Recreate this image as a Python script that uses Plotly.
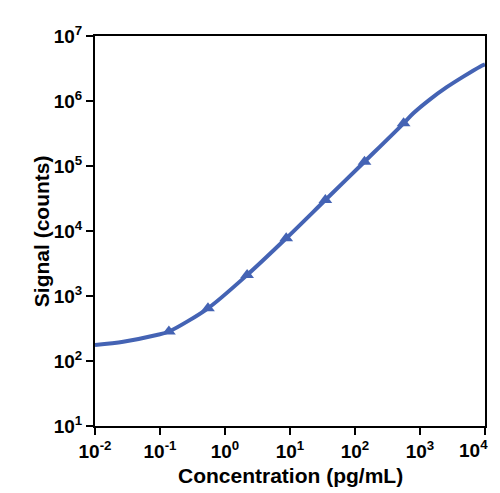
import plotly.graph_objects as go

# standards (4-fold dilution series) and their measured signal
conc = [0.137, 0.547, 2.19, 8.75, 35, 140, 560]
signal = [284, 647, 2104, 7720, 30000, 116400, 454000]

# fitted curve
fit_x = [0.01, 0.0272, 0.0889, 0.137, 0.547, 2.19, 8.75, 35, 140, 560,
         789, 1426, 2576, 4634, 8375, 10000]
fit_y = [176, 198, 251, 284, 647, 2104, 7720, 30000, 116400, 454000,
         647000, 1060000, 1630000, 2370000, 3370000, 3650000]

x_ticks = [0.01, 0.1, 1, 10, 100, 1000, 10000]
x_labels = ["10<sup>-2</sup>", "10<sup>-1</sup>", "10<sup>0</sup>", "10<sup>1</sup>",
            "10<sup>2</sup>", "10<sup>3</sup>", "10<sup>4</sup>"]
y_ticks = [10, 100, 1000, 10000, 100000, 1000000, 10000000]
y_labels = ["10<sup>1</sup>", "10<sup>2</sup>", "10<sup>3</sup>", "10<sup>4</sup>",
            "10<sup>5</sup>", "10<sup>6</sup>", "10<sup>7</sup>"]

blue = "#4463b4"
font = "Liberation Sans, Arial, sans-serif"

fig = go.Figure()
fig.add_trace(go.Scatter(x=fit_x, y=fit_y, mode="lines",
                         line=dict(color=blue, width=4, shape="spline", smoothing=0.8),
                         hoverinfo="skip", showlegend=False))
fig.add_trace(go.Scatter(x=conc, y=signal, mode="markers",
                         marker=dict(symbol="triangle-up", size=12, color=blue),
                         showlegend=False))

axis_common = dict(type="log", showgrid=False, zeroline=False, automargin=False,
                   showline=True, linecolor="black", linewidth=2, mirror=True,
                   ticks="outside", ticklen=7, tickwidth=2, tickcolor="black",
                   tickfont=dict(family=font, size=19, color="black", weight="bold"))

# last x label sits at the right edge; drawn separately, nudged left so it fits
fig.update_xaxes(range=[-2, 4], tickvals=x_ticks, ticktext=x_labels[:-1] + [""], **axis_common)
fig.update_yaxes(range=[1, 7], tickvals=y_ticks, ticktext=y_labels, **axis_common)

# the page adds an 8px body margin, so the figure is made smaller and margins shifted
fig.update_layout(
    width=492, height=485,
    margin=dict(l=87, r=15, t=28, b=67),
    plot_bgcolor="white", paper_bgcolor="white",
    font=dict(family=font, color="black"),
    annotations=[
        dict(text="<b>" + x_labels[-1] + "</b>", xref="x", yref="paper",
             x=4, y=0, xanchor="right", yanchor="top", xshift=5, yshift=-9,
             showarrow=False, font=dict(size=19, family=font, color="black")),
        dict(text="<b>Concentration (pg/mL)</b>", xref="paper", yref="paper",
             x=0.5, y=-0.128, xanchor="center", yanchor="middle",
             showarrow=False, font=dict(size=21, family=font, color="black")),
        dict(text="<b>Signal (counts)</b>", xref="paper", yref="paper",
             x=-0.138, y=0.5, xanchor="center", yanchor="middle", textangle=-90,
             showarrow=False, font=dict(size=21, family=font, color="black")),
    ],
)

fig.write_html("out.html")
